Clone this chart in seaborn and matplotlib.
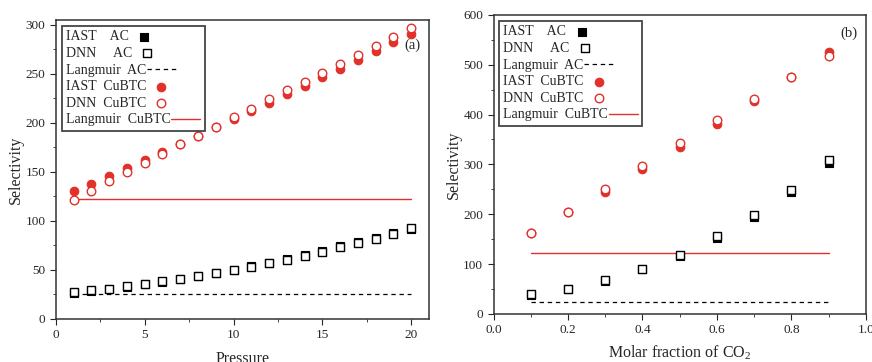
import matplotlib
matplotlib.use("Agg")
import matplotlib.pyplot as plt
from matplotlib.ticker import MultipleLocator, FormatStrFormatter
import seaborn as sns
import pandas as pd

# panel (a): selectivity vs pressure
pressure = [1, 2, 3, 4, 5, 6, 7, 8, 9, 10, 11, 12, 13, 14, 15, 16, 17, 18, 19, 20]
iast_ac_a = [26, 28.5, 30.5, 33, 35.5, 38, 40.5, 43.5, 46.5, 49.5, 54, 57.5, 61.5, 65.5, 69.5, 74, 78.5, 82.5, 87.5, 92]
dnn_ac_a = [27, 29, 31, 33.5, 36, 38.5, 41, 44, 47, 50, 53, 57, 60.5, 64.5, 68.5, 73, 77.5, 82, 87, 92.5]
iast_cu_a = [130, 138, 146, 154, 162, 170, 178, 187, 196, 204, 212, 220, 229, 238, 247, 255, 264, 273, 282, 291]
dnn_cu_a = [121, 130.5, 140.5, 150, 159.5, 168.5, 178, 187, 196, 205.5, 214.5, 224, 233, 242, 251, 260.5, 269.5, 278.5, 288, 297]
langmuir_ac_a = 25
langmuir_cu_a = 122

# panel (b): selectivity vs molar fraction of CO2
fraction = [0.1, 0.2, 0.3, 0.4, 0.5, 0.6, 0.7, 0.8, 0.9]
iast_ac_b = [37, 49, 66, 90, 116, 152, 194, 244, 303]
dnn_ac_b = [39.5, 50, 67.5, 90, 119, 156, 199, 249.5, 308]
iast_cu_b = [163, 204, 245, 290, 335, 381, 428, 475, 526]
dnn_cu_b = [163, 205, 251.5, 296, 342, 388, 431, 475, 518]
langmuir_ac_b = 24
langmuir_cu_b = 122

labels = ["IAST    AC", "DNN     AC", "Langmuir  AC", "IAST  CuBTC", "DNN  CuBTC", "Langmuir  CuBTC"]

sns.set_style("ticks")
plt.rcParams["font.family"] = ["Liberation Serif", "DejaVu Serif"]
plt.rcParams["mathtext.default"] = "regular"

red = "#e2302b"

fig = plt.figure(figsize=(8.72, 3.62), dpi=100)
ax1 = fig.add_axes([0.064, 0.119, 0.428, 0.826])
ax2 = fig.add_axes([0.566, 0.133, 0.427, 0.826])


def draw(ax, x, iast_ac, dnn_ac, iast_cu, dnn_cu, lang_ac, lang_cu):
    df = pd.DataFrame({"x": x, "iast_ac": iast_ac, "dnn_ac": dnn_ac,
                       "iast_cu": iast_cu, "dnn_cu": dnn_cu})
    sns.scatterplot(data=df, x="x", y="iast_ac", ax=ax, marker="s", s=34,
                    color="black", edgecolor="black", linewidth=0.8, label=labels[0], zorder=3)
    sns.scatterplot(data=df, x="x", y="dnn_ac", ax=ax, marker="s", s=34,
                    facecolor="white", edgecolor="black", linewidth=1.0, label=labels[1], zorder=4)
    ax.plot([x[0], x[-1]], [lang_ac, lang_ac], color="black", ls=(0, (3.5, 3)), lw=0.9,
            label=labels[2], zorder=2)
    sns.scatterplot(data=df, x="x", y="iast_cu", ax=ax, marker="o", s=38,
                    color=red, edgecolor=red, linewidth=0.8, label=labels[3], zorder=3)
    sns.scatterplot(data=df, x="x", y="dnn_cu", ax=ax, marker="o", s=38,
                    facecolor="white", edgecolor=red, linewidth=1.0, label=labels[4], zorder=4)
    ax.plot([x[0], x[-1]], [lang_cu, lang_cu], color=red, lw=1.0, label=labels[5], zorder=2)

    leg = ax.legend(loc="upper left", bbox_to_anchor=(0.008, 0.988), markerfirst=False,
                    fancybox=False, fontsize=10, handlelength=2.1, handletextpad=0.05,
                    labelspacing=0.26, borderpad=0.3, borderaxespad=0.2)
    # rows left aligned, handle right after its label
    leg._legend_handle_box.get_children()[0].align = "left"
    leg.get_frame().set_edgecolor("#444444")
    leg.get_frame().set_linewidth(1.3)
    leg.get_frame().set_alpha(1)

    for sp in ax.spines.values():
        sp.set_linewidth(1.1)
        sp.set_color("#333333")
    ax.tick_params(which="both", direction="out", labelsize=9.5)
    ax.tick_params(which="major", length=4)
    ax.tick_params(which="minor", length=2.5)
    ax.set_ylabel("Selectivity", fontsize=11.5, labelpad=1)


draw(ax1, pressure, iast_ac_a, dnn_ac_a, iast_cu_a, dnn_cu_a, langmuir_ac_a, langmuir_cu_a)
ax1.set_xlim(0, 21)
ax1.set_ylim(0, 305)
ax1.xaxis.set_major_locator(MultipleLocator(5))
ax1.xaxis.set_minor_locator(MultipleLocator(2.5))
ax1.yaxis.set_major_locator(MultipleLocator(50))
ax1.yaxis.set_minor_locator(MultipleLocator(25))
ax1.set_xlabel("Pressure", fontsize=11.5, labelpad=7)
ax1.text(0.955, 0.915, "(a)", transform=ax1.transAxes, fontsize=10.5, ha="center", va="center")

draw(ax2, fraction, iast_ac_b, dnn_ac_b, iast_cu_b, dnn_cu_b, langmuir_ac_b, langmuir_cu_b)
ax2.set_xlim(0, 1.0)
ax2.set_ylim(0, 600)
ax2.xaxis.set_major_locator(MultipleLocator(0.2))
ax2.xaxis.set_minor_locator(MultipleLocator(0.1))
ax2.yaxis.set_major_locator(MultipleLocator(100))
ax2.yaxis.set_minor_locator(MultipleLocator(50))
ax2.xaxis.set_major_formatter(FormatStrFormatter("%.1f"))
ax2.set_xlabel("Molar fraction of CO$_2$", fontsize=11.5, labelpad=5)
ax2.text(0.955, 0.94, "(b)", transform=ax2.transAxes, fontsize=10.5, ha="center", va="center")

fig.savefig("out.png", dpi=100)
